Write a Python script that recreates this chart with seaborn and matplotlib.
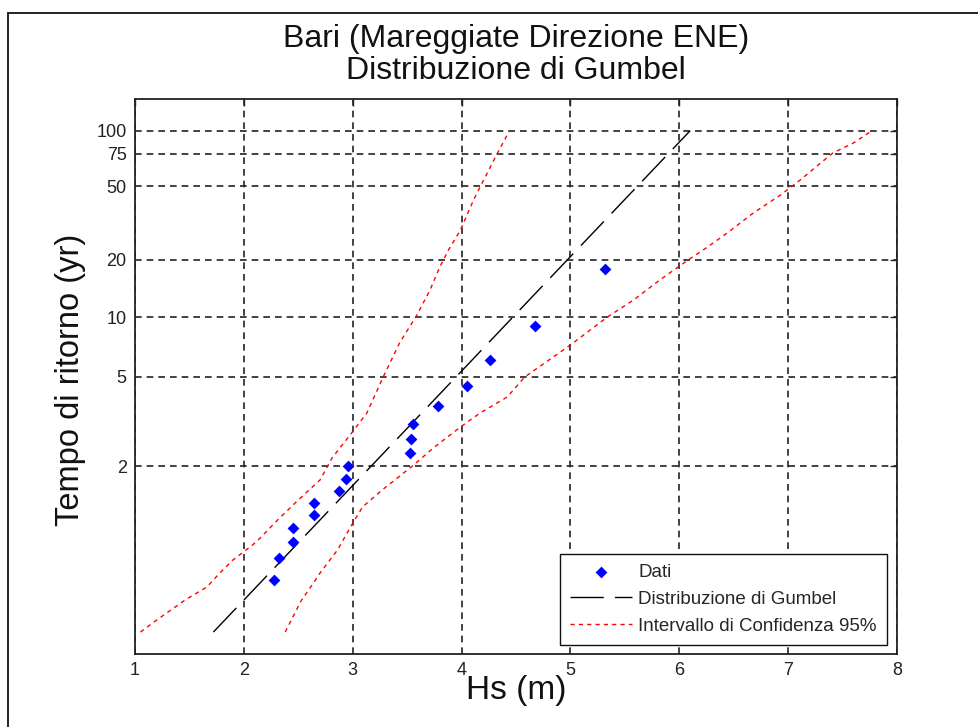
import numpy as np
import matplotlib
matplotlib.use("Agg")
import matplotlib.pyplot as plt
import matplotlib.patches as mpatches
from matplotlib.ticker import FixedLocator, NullLocator, FixedFormatter
import seaborn as sns

# ---------------- data ----------------
dati_T = [18, 9, 6, 4.5, 3.6, 3.0, 2.571, 2.25, 2.0, 1.8, 1.636, 1.5,
          1.385, 1.286, 1.2, 1.125, 1.059]
dati_hs = [5.32, 4.67, 4.26, 4.05, 3.78, 3.55, 3.54, 3.53, 2.96, 2.94,
           2.87, 2.64, 2.64, 2.45, 2.45, 2.32, 2.28]

gumbel_T = [1.0037, 100]
gumbel_hs = [1.72, 6.10]

ci_low_T = [1.0037, 1.0082, 1.0243, 1.0437, 1.0753, 1.1169, 1.1826, 1.2206,
            1.3439, 1.5312, 1.7832, 2.155, 2.737, 3.358, 4.973, 7.35, 10.25,
            13.85, 18.33, 22.62, 28.95, 42.0, 49.4, 61.1, 75.6, 100]
ci_low_hs = [1.05, 1.20, 1.46, 1.66, 1.78, 1.90, 2.08, 2.15, 2.31, 2.50,
             2.70, 2.81, 2.99, 3.13, 3.28, 3.43, 3.59, 3.71, 3.80, 3.88,
             3.99, 4.11, 4.17, 4.25, 4.33, 4.44]

ci_up_T = [1.0037, 1.0098, 1.0243, 1.0515, 1.0753, 1.1583, 1.2913, 1.4585,
           1.6479, 1.8123, 2.0247, 2.3641, 2.9053, 3.358, 3.987, 4.973, 7.184,
           10.0, 12.27, 15.63, 19.97, 23.45, 27.89, 35.74, 44.7, 53.9, 75.6,
           85.7, 100]
ci_up_hs = [2.38, 2.45, 2.53, 2.64, 2.70, 2.86, 2.98, 3.09, 3.27, 3.41,
            3.56, 3.74, 3.99, 4.17, 4.42, 4.58, 5.00, 5.34, 5.58, 5.82,
            6.08, 6.26, 6.44, 6.68, 6.93, 7.11, 7.41, 7.60, 7.77]

ytick_T = [2, 5, 10, 20, 50, 75, 100]
ytick_labels = ["2", "5", "10", "20", "50", "75", "100"]
xticks = [1, 2, 3, 4, 5, 6, 7, 8]

title = "Bari (Mareggiate Direzione ENE)\nDistribuzione di Gumbel"
xlabel = "Hs (m)"
ylabel = "Tempo di ritorno (yr)"

# ---------------- style ----------------
sns.set_theme(style="white")
plt.rcParams["font.family"] = ["Liberation Sans", "DejaVu Sans"]


def gumbel_fwd(T):
    T = np.asarray(T, dtype=float)
    with np.errstate(all="ignore"):
        return -np.log(-np.log(1.0 - 1.0 / T))


def gumbel_inv(y):
    y = np.asarray(y, dtype=float)
    with np.errstate(all="ignore"):
        return 1.0 / (1.0 - np.exp(-np.exp(-y)))


W, H = 979, 727
fig = plt.figure(figsize=(W / 100, H / 100), dpi=100, facecolor="white")
ax = fig.add_axes([135 / W, 1 - 654 / H, 762 / W, 555 / H])
ax.set_facecolor("white")
ax.set_yscale("function", functions=(gumbel_fwd, gumbel_inv))
ax.set_xlim(1, 8)
ax.set_ylim(float(gumbel_inv(-2.0)), float(gumbel_inv(5.0)))

sns.scatterplot(x=dati_hs, y=dati_T, ax=ax, marker="D", color="#0000ff",
                s=36, linewidth=0, label="Dati", zorder=5)
sns.lineplot(x=gumbel_hs, y=gumbel_T, ax=ax, sort=False, estimator=None,
             errorbar=None, color="black", linewidth=1.0,
             linestyle=(0, (24, 8)), label="Distribuzione di Gumbel", zorder=4)
sns.lineplot(x=ci_low_hs, y=ci_low_T, ax=ax, sort=False, estimator=None,
             errorbar=None, color="#ff0000", linewidth=1.0,
             linestyle=(0, (3, 3)), label="Intervallo di Confidenza 95%", zorder=4)
sns.lineplot(x=ci_up_hs, y=ci_up_T, ax=ax, sort=False, estimator=None,
             errorbar=None, color="#ff0000", linewidth=1.0,
             linestyle=(0, (3, 3)), zorder=4)

# axes / ticks
ax.set_xticks(xticks)
ax.set_xticklabels([str(v) for v in xticks])
ax.yaxis.set_major_locator(FixedLocator(ytick_T))
ax.yaxis.set_major_formatter(FixedFormatter(ytick_labels))
ax.yaxis.set_minor_locator(NullLocator())
ax.xaxis.set_minor_locator(NullLocator())
ax.tick_params(axis="both", which="major", direction="in", length=5, width=1,
               colors="#222222", labelcolor="#222222", labelsize=13,
               top=True, right=True, pad=6)
for sp in ax.spines.values():
    sp.set_visible(True)
    sp.set_color("#222222")
    sp.set_linewidth(1.3)

ax.grid(True, which="major", color="#222222", linestyle=(0, (4, 3)),
        linewidth=1.2)
ax.set_axisbelow(True)

ax.set_title(title, fontsize=23, color="#111111", y=1 + (99 - 55) / 555,
             va="center", linespacing=1.08, pad=0)
ax.set_xlabel(xlabel, fontsize=24, color="#111111", va="center")
ax.xaxis.set_label_coords(0.5, (654 - 691) / 555)
ax.set_ylabel(ylabel, fontsize=23.5, color="#111111", va="center", ha="center")
ax.yaxis.set_label_coords((71 - 135) / 762, 0.5 - (380 - 376.5) / 555)

leg = ax.legend(loc="lower right", bbox_to_anchor=(0.987, 0.016),
                borderaxespad=0, frameon=True, fancybox=False,
                edgecolor="#111111", framealpha=1, fontsize=13.5,
                handlelength=3.3, handletextpad=0.35, labelspacing=0.52,
                borderpad=0.55, scatterpoints=1)
leg.get_frame().set_linewidth(1.0)

# outer figure border
fig.add_artist(mpatches.Rectangle((8.5 / W, -0.1), 1.2, (1 - 12.5 / H) + 0.1,
                                  transform=fig.transFigure, fill=False,
                                  edgecolor="#111111", linewidth=1.3))

fig.savefig("out.png", dpi=100, facecolor="white")
